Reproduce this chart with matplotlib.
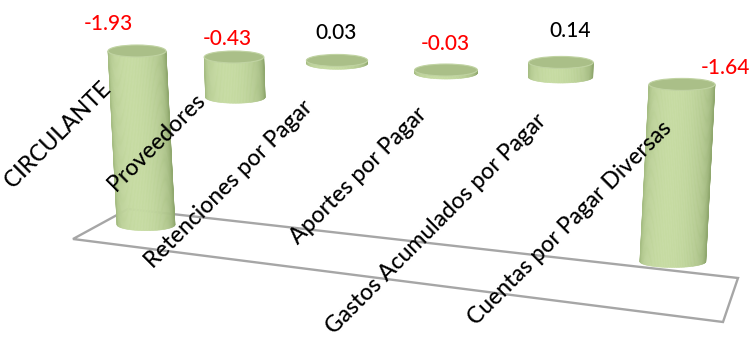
import numpy as np
import matplotlib
matplotlib.use("Agg")
import matplotlib.pyplot as plt
from matplotlib.patches import Ellipse, Polygon

# ---- data ----
categories = ["CIRCULANTE", "Proveedores", "Retenciones por Pagar",
              "Aportes por Pagar", "Gastos Acumulados por Pagar",
              "Cuentas por Pagar Diversas"]
values = [-1.93, -0.43, 0.03, -0.03, 0.14, -1.64]
value_labels = ["-1.93", "-0.43", "0.03", "-0.03", "0.14", "-1.64"]

# ---- layout (pseudo-3D perspective, pixel space) ----
W, H = 752, 338
FONT = ["Lato", "DejaVu Sans"]
label_dx = [-29, -7, -1, -1, 9, 43]
label_dy = [-27, -18, -27, -26, -31, -16]
cat_shift = [(7, -6), (0, 0), (0, 0), (0, 0), (0, 0), (0, 0)]

def xc(i):
    return 137 + 97 * i + 3.0 * i * (i - 1)

def y0(i):
    return 51 + 6.0 * i + 0.17 * i * (i - 1)

def width(i):
    return 58 + 1.6 * i

def scale(i):
    return 90.0 * (1 + 0.04 * i)

RY = 6.0
LEAN = 0.00019

fig = plt.figure(figsize=(W / 100, H / 100), dpi=100)
ax = fig.add_axes([0, 0, 1, 1])
ax.set_xlim(0, W)
ax.set_ylim(H, 0)
ax.axis("off")

# floor
floor = Polygon([(73, 239), (128, 209), (738, 278), (723, 322)], closed=True,
                facecolor="white", edgecolor="#a6a6a6", linewidth=1.7, zorder=1)
ax.add_patch(floor)

dark = np.array([0x90, 0xa8, 0x6e]) / 255
light = np.array([0xc6, 0xdb, 0xa2]) / 255

def draw_cyl(i, v):
    x = xc(i)
    base = y0(i)
    k = scale(i)
    y_top = base - max(v, 0) * k
    y_bot = base - min(v, 0) * k
    dy = y_bot - y_top
    x_top = x
    x_bot = x - (x - 410) * LEAN * dy
    r = width(i) / 2
    n = 60
    th = np.linspace(0, np.pi, n + 1)
    for j in range(n):
        t0, t1 = th[j], th[j + 1]
        tm = 0.5 * (t0 + t1)
        s = np.cos(tm - (np.pi / 2 + 0.25))
        s = max(s, 0) ** 0.7
        col = dark + (light - dark) * s
        pts = [(x_top + r * np.cos(t0), y_top + RY * np.sin(t0)),
               (x_top + r * np.cos(t1), y_top + RY * np.sin(t1)),
               (x_bot + r * np.cos(t1), y_bot + RY * np.sin(t1)),
               (x_bot + r * np.cos(t0), y_bot + RY * np.sin(t0))]
        ax.add_patch(Polygon(pts, closed=True, facecolor=col, edgecolor=col,
                             linewidth=0.4, zorder=3))
    ax.add_patch(Ellipse((x_top, y_top), 2 * r, 2 * RY, facecolor="#aabf88",
                         edgecolor="#c0d3a2", linewidth=0.8, zorder=4))
    return x_top, y_top

for i, v in enumerate(values):
    xt, yt = draw_cyl(i, v)
    col = "#ff0000" if v < 0 else "#000000"
    ax.text(xt + label_dx[i], yt + label_dy[i], value_labels[i], color=col,
            fontsize=15, family=FONT, fontweight="medium",
            ha="center", va="center", zorder=6)
    # category label, rotated 45 deg, ending near the bar
    lx = xc(i) - 32 + 4.5 * i + cat_shift[i][0]
    ly = y0(i) + 45 + cat_shift[i][1]
    ax.text(lx, ly, categories[i], rotation=45, rotation_mode="anchor",
            ha="right", va="baseline", fontsize=16.5, family=FONT,
            fontweight="medium", color="#000000", zorder=6)

fig.savefig("out.png", dpi=100)
